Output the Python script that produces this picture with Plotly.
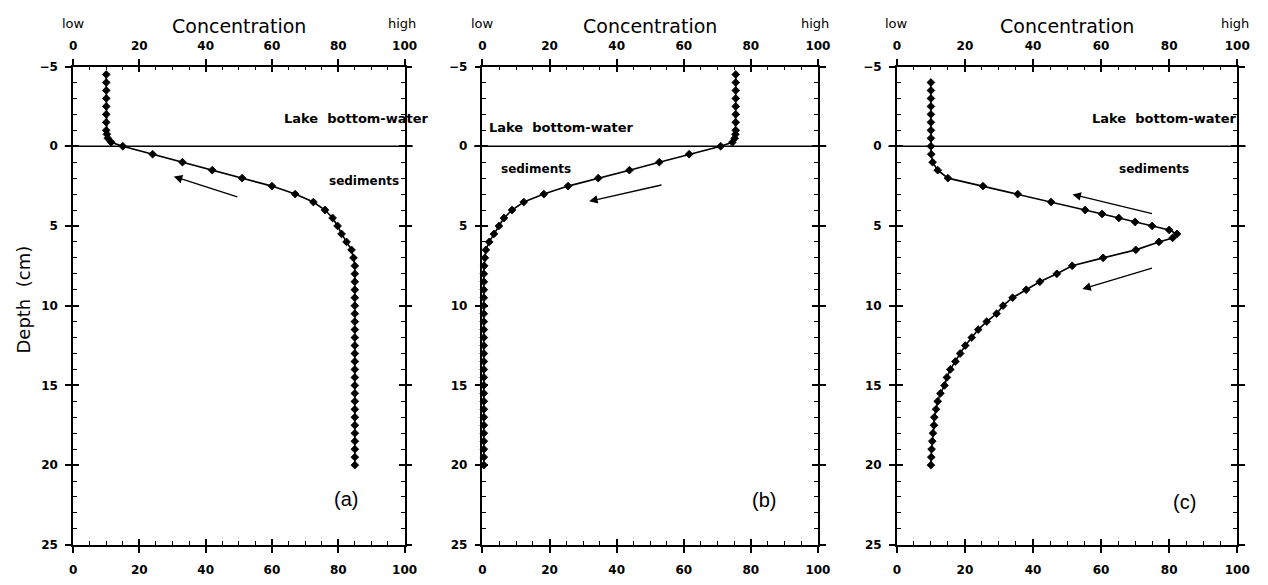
import plotly.graph_objects as go

# ---------------- data ----------------
depth_a = [-4.5, -4, -3.5, -3, -2.5, -2, -1.5, -1, -0.75, -0.5, -0.25, 0,
           0.5, 1, 1.5, 2, 2.5, 3, 3.5, 4, 4.5, 5, 5.5, 6, 6.5, 7, 7.5,
           8, 8.5, 9, 9.5, 10, 10.5, 11, 11.5, 12, 12.5, 13, 13.5, 14, 14.5,
           15, 15.5, 16, 16.5, 17, 17.5, 18, 18.5, 19, 19.5, 20]
conc_a = [10, 10, 10, 10, 10, 10, 10, 10, 10.2, 10.5, 11.5, 15,
          24, 33, 42, 51, 60, 67, 72.5, 76, 78.3, 79.8, 81, 82.5, 84, 84.6, 85,
          85, 85, 85, 85, 85, 85, 85, 85, 85, 85, 85, 85, 85, 85,
          85, 85, 85, 85, 85, 85, 85, 85, 85, 85, 85]

depth_b = [-4.5, -4, -3.5, -3, -2.5, -2, -1.5, -1, -0.75, -0.5, -0.25, 0,
           0.5, 1, 1.5, 2, 2.5, 3, 3.5, 4, 4.5, 5, 5.5, 6, 6.5, 7, 7.5,
           8, 8.5, 9, 9.5, 10, 10.5, 11, 11.5, 12, 12.5, 13, 13.5, 14, 14.5,
           15, 15.5, 16, 16.5, 17, 17.5, 18, 18.5, 19, 19.5, 20]
conc_b = [75.5, 75.5, 75.5, 75.5, 75.5, 75.5, 75.5, 75.5, 75.4, 75.2, 74.5, 71,
          61.6, 52.7, 43.8, 34.5, 25.5, 18.3, 12.3, 8.8, 6.4, 4.9, 3.4, 2.0, 1.0, 0.7, 0.5,
          0.4, 0.4, 0.4, 0.4, 0.4, 0.4, 0.4, 0.4, 0.4, 0.4, 0.4, 0.4, 0.4, 0.4,
          0.4, 0.4, 0.4, 0.4, 0.4, 0.4, 0.4, 0.4, 0.4, 0.4, 0.4]

depth_c = [-4, -3.5, -3, -2.5, -2, -1.5, -1, -0.5, 0,
           0.5, 1, 1.5, 2, 2.5, 3, 3.5, 4, 4.25, 4.5, 4.75, 5, 5.25, 5.5, 5.75, 6,
           6.5, 7, 7.5, 8, 8.5, 9, 9.5, 10, 10.5, 11, 11.5, 12, 12.5, 13, 13.5,
           14, 14.5, 15, 15.5, 16, 16.5, 17, 17.5, 18, 18.5, 19, 19.5, 20]
conc_c = [10, 10, 10, 10, 10, 10, 10, 10, 10,
          10.1, 10.5, 12, 15, 25.3, 35.5, 45.3, 55.3, 60.3, 65.2, 70, 75, 80, 82.3, 81, 77,
          70.2, 60.6, 51.5, 47, 42, 38, 34, 31.2, 29.3, 26.4, 23.9, 22, 20.1, 18.6, 17.2,
          15.7, 14.7, 14, 12.8, 12, 11.5, 11, 10.9, 10.6, 10.4, 10.2, 10.1, 10]

panel_labels = ["(a)", "(b)", "(c)"]
x_range = [0, 100]
y_range = [25, -5]
x_major, x_minor = 20, 5
y_major, y_minor = 5, 1

# ---------------- layout geometry ----------------
W, H = 1268, 585
x_domains = [[70 / W, 406 / W], [485 / W, 825 / W], [905 / W, 1250 / W]]
y_domain = [1 - 551 / H, 1 - 61 / H]

FONT = "DejaVu Sans"
fig = go.Figure()

series = [(conc_a, depth_a), (conc_b, depth_b), (conc_c, depth_c)]


def ax_id(n):
    return "" if n == 1 else str(n)


for i, (cx, dy) in enumerate(series):
    fig.add_trace(go.Scatter(
        x=cx, y=dy, mode="lines+markers",
        xaxis="x" + ax_id(i + 1), yaxis="y" + ax_id(i + 1),
        line=dict(color="black", width=1.6),
        marker=dict(symbol="diamond", size=6, color="black",
                    line=dict(color="black", width=0.8)),
        showlegend=False, hoverinfo="skip", cliponaxis=False))
    n = str(4 + i)
    fig.add_trace(go.Scatter(x=[None], y=[None], xaxis="x" + n, yaxis="y" + n,
                             showlegend=False, mode="markers", hoverinfo="skip"))

tickfont = dict(family=FONT, size=12, color="black", weight="bold")
base = dict(showgrid=False, zeroline=False, showline=True, linecolor="black",
            linewidth=1.5, tickwidth=1.5, tickcolor="black", tickfont=tickfont,
            fixedrange=True, mirror="ticks", tickmode="linear", tick0=0)

layout = dict(width=W, height=H, margin=dict(l=0, r=0, t=0, b=0),
              plot_bgcolor="white", paper_bgcolor="white", showlegend=False)
for i in range(3):
    m = ax_id(i + 1)
    xm, ym = "x" + m, "y" + m
    n = str(4 + i)
    dom = x_domains[i]
    # main axes: inside ticks (major + minor) mirrored, labels bottom/left
    layout["xaxis" + m] = dict(base, range=x_range, dtick=x_major, domain=dom, anchor=ym,
                               side="bottom", ticks="inside", ticklen=6,
                               ticklabelstandoff=13,
                               minor=dict(dtick=x_minor, tick0=0, ticks="inside", ticklen=4,
                                          tickwidth=1.2, tickcolor="black"))
    layout["yaxis" + m] = dict(base, range=y_range, dtick=y_major, domain=y_domain, anchor=xm,
                               side="left", ticks="inside", ticklen=6,
                               ticklabelstandoff=11,
                               minor=dict(dtick=y_minor, tick0=0, ticks="inside", ticklen=4,
                                          tickwidth=1.2, tickcolor="black"))
    # overlay axes: outside ticks mirrored, labels on top
    layout["xaxis" + n] = dict(base, range=x_range, dtick=x_major, domain=dom, anchor="y" + n,
                               side="top", ticks="outside", ticklen=6, overlaying=xm,
                               ticklabelstandoff=4)
    layout["yaxis" + n] = dict(base, range=y_range, dtick=y_major, domain=y_domain,
                               anchor="x" + n, side="right", ticks="outside", ticklen=6,
                               overlaying=ym, showticklabels=False)
fig.update_layout(**layout)

# horizontal line at depth 0 (water/sediment boundary)
for i in range(3):
    m = ax_id(i + 1)
    fig.add_shape(type="line", xref="x" + m + " domain", yref="y" + m,
                  x0=-0.025, x1=1.025, y0=0, y1=0,
                  line=dict(color="black", width=1.5))

ann = []
lake_pos = [(85.4, -1.75), (23.5, -1.2), (78.5, -1.75)]
sed_pos = [(87.8, 2.2), (16, 1.43), (75.4, 1.43)]
lab_pos = [(82.4, 22.1), (83.8, 22.2), (84.6, 22.3)]
for i in range(3):
    m = ax_id(i + 1)
    xr, yr = "x" + m, "y" + m
    x0p, x1p = x_domains[i]
    ann.append(dict(xref="paper", yref="paper", x=x0p, y=1 - 17 / H, text="low",
                    showarrow=False, font=dict(family=FONT, size=13, color="black"),
                    xanchor="center", yanchor="middle"))
    ann.append(dict(xref="paper", yref="paper", x=x1p - 0.002, y=1 - 17 / H, text="high",
                    showarrow=False, font=dict(family=FONT, size=13, color="black"),
                    xanchor="center", yanchor="middle"))
    ann.append(dict(xref="paper", yref="paper", x=(x0p + x1p) / 2, y=1 - 19 / H,
                    text="Concentration", showarrow=False,
                    font=dict(family=FONT, size=19, color="black"),
                    xanchor="center", yanchor="middle"))
    ann.append(dict(xref=xr, yref=yr, x=lake_pos[i][0], y=lake_pos[i][1],
                    text="Lake  bottom-water", showarrow=False,
                    font=dict(family=FONT, size=13, color="black", weight="bold"),
                    xanchor="center", yanchor="middle"))
    ann.append(dict(xref=xr, yref=yr, x=sed_pos[i][0], y=sed_pos[i][1],
                    text="sediments", showarrow=False,
                    font=dict(family=FONT, size=12, color="black", weight="bold"),
                    xanchor="center", yanchor="middle"))
    ann.append(dict(xref=xr, yref=yr, x=lab_pos[i][0], y=lab_pos[i][1],
                    text=panel_labels[i], showarrow=False,
                    font=dict(family="Liberation Sans", size=20, color="black"),
                    xanchor="center", yanchor="middle"))

# arrows (head, tail) in data coords
arrows = [("", (30.4, 1.9), (50, 3.2)),
          ("2", (31.8, 3.45), (53.8, 2.41)),
          ("3", (51.6, 3.02), (75.4, 4.25)),
          ("3", (54.5, 8.96), (75.4, 7.61))]
for sfx, head, tail in arrows:
    ann.append(dict(xref="x" + sfx, yref="y" + sfx, x=head[0], y=head[1],
                    axref="x" + sfx, ayref="y" + sfx, ax=tail[0], ay=tail[1],
                    text="", showarrow=True, arrowhead=2, arrowsize=1.3,
                    arrowwidth=1.3, arrowcolor="black", standoff=0))

ann.append(dict(xref="paper", yref="paper", x=20 / W, y=1 - 300 / H, text="Depth  (cm)",
                showarrow=False, textangle=-90,
                font=dict(family=FONT, size=18, color="black"),
                xanchor="center", yanchor="middle"))
fig.update_layout(annotations=ann)

fig.write_html("out.html")
